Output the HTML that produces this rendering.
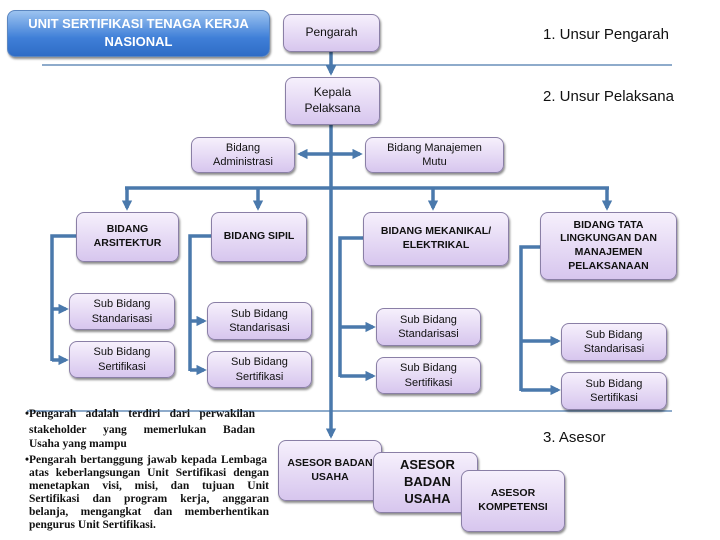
<!DOCTYPE html>
<html><head><meta charset="utf-8"><style>
body{margin:0;width:720px;height:540px;background:#fff;position:relative;overflow:hidden;font-family:"Liberation Sans",sans-serif}
.b{position:absolute;box-sizing:border-box;border:1px solid #8a7fa6;border-radius:8px;background:linear-gradient(#f6f0fc,#d7c6ee);box-shadow:1px 2px 2px rgba(0,0,0,.45);display:flex;align-items:center;justify-content:center;text-align:center;font-size:11px;color:#111;line-height:1.3}
.k{font-weight:bold;font-size:10.5px}
.u{position:absolute;font-size:15px;color:#111}
svg{position:absolute;left:0;top:0}
.l{position:absolute;left:27px;width:242px;font-family:"Liberation Serif",serif;font-weight:bold;font-size:11.5px;line-height:13px;text-align:justify;text-align-last:justify;color:#111;white-space:nowrap}
.l.n{text-align-last:left}
</style></head><body>
<svg width="720" height="540">
<defs><marker id="a" markerWidth="3" markerHeight="3" refX="2.2" refY="1.5" orient="auto"><path d="M0,0L3,1.5L0,3z" fill="#4a79ac"/></marker></defs>
<g stroke="#4a79ac" fill="none">
<line x1="42" y1="65" x2="672" y2="65" stroke-width="1.2"/>
<line x1="27" y1="411" x2="672" y2="411" stroke-width="1.2"/>
<g stroke-width="3.5" marker-end="url(#a)">
<line x1="331" y1="52" x2="331" y2="73"/>
<line x1="331" y1="125" x2="331" y2="436"/>
<line x1="331" y1="154" x2="300" y2="154"/>
<line x1="331" y1="154" x2="360" y2="154"/>
<line x1="127" y1="188" x2="127" y2="208"/>
<line x1="258" y1="188" x2="258" y2="208"/>
<line x1="433" y1="188" x2="433" y2="208"/>
<line x1="607" y1="188" x2="607" y2="208"/>
<line x1="52" y1="309" x2="66" y2="309"/>
<line x1="52" y1="360" x2="66" y2="360"/>
<line x1="190" y1="321" x2="204" y2="321"/>
<line x1="190" y1="370" x2="204" y2="370"/>
<line x1="340" y1="327" x2="373" y2="327"/>
<line x1="340" y1="376" x2="373" y2="376"/>
<line x1="521" y1="341" x2="558" y2="341"/>
<line x1="521" y1="390" x2="558" y2="390"/>
</g>
<g stroke-width="3.5">
<line x1="125" y1="188" x2="609" y2="188"/>
<polyline points="76,236 52,236 52,361"/>
<polyline points="211,236 190,236 190,371"/>
<polyline points="363,238 340,238 340,377"/>
<polyline points="540,247 521,247 521,391"/>
</g></g></svg>
<div class="b" style="left:7px;top:10px;width:263px;height:47px;background:linear-gradient(#9cc3f0,#3f7fd8 60%,#2f6cc6);border-color:#5b86c0;color:#fff;font-weight:bold;font-size:13px;align-items:flex-start;padding-top:4px;line-height:1.35">UNIT SERTIFIKASI TENAGA KERJA<br>NASIONAL</div>
<div class="b" style="left:283px;top:14px;width:97px;height:38px;font-size:12px">Pengarah</div>
<div class="b" style="left:285px;top:77px;width:95px;height:48px;font-size:12px">Kepala<br>Pelaksana</div>
<div class="b" style="left:191px;top:137px;width:104px;height:36px">Bidang<br>Administrasi</div>
<div class="b" style="left:365px;top:137px;width:139px;height:36px">Bidang Manajemen<br>Mutu</div>
<div class="b k" style="left:76px;top:212px;width:103px;height:50px">BIDANG<br>ARSITEKTUR</div>
<div class="b k" style="left:211px;top:212px;width:96px;height:50px">BIDANG SIPIL</div>
<div class="b k" style="left:363px;top:212px;width:146px;height:54px">BIDANG MEKANIKAL/<br>ELEKTRIKAL</div>
<div class="b k" style="left:540px;top:212px;width:137px;height:68px">BIDANG TATA<br>LINGKUNGAN DAN<br>MANAJEMEN<br>PELAKSANAAN</div>
<div class="b" style="left:69px;top:293px;width:106px;height:37px">Sub Bidang<br>Standarisasi</div>
<div class="b" style="left:69px;top:341px;width:106px;height:37px">Sub Bidang<br>Sertifikasi</div>
<div class="b" style="left:207px;top:302px;width:105px;height:38px">Sub Bidang<br>Standarisasi</div>
<div class="b" style="left:207px;top:351px;width:105px;height:37px">Sub Bidang<br>Sertifikasi</div>
<div class="b" style="left:376px;top:308px;width:105px;height:38px">Sub Bidang<br>Standarisasi</div>
<div class="b" style="left:376px;top:357px;width:105px;height:37px">Sub Bidang<br>Sertifikasi</div>
<div class="b" style="left:561px;top:323px;width:106px;height:38px">Sub Bidang<br>Standarisasi</div>
<div class="b" style="left:561px;top:372px;width:106px;height:38px">Sub Bidang<br>Sertifikasi</div>
<div class="b k" style="left:278px;top:440px;width:104px;height:61px;align-items:flex-start;padding-top:16px">ASESOR BADAN<br>USAHA</div>
<div class="b k" style="left:373px;top:452px;width:105px;height:61px;font-size:13px;justify-content:flex-start;padding-left:26px">ASESOR<br>BADAN<br>USAHA</div>
<div class="b k" style="left:461px;top:470px;width:104px;height:62px">ASESOR<br>KOMPETENSI</div>
<div class="u" style="left:543px;top:26px">1. Unsur Pengarah</div>
<div class="u" style="left:543px;top:88px">2. Unsur Pelaksana</div>
<div class="u" style="left:543px;top:429px">3. Asesor</div>
<div class="l" style="left:25px;width:230px;top:408px">•Pengarah adalah terdiri dari perwakilan</div>
<div class="l" style="left:29px;width:226px;top:424px">stakeholder yang memerlukan Badan</div>
<div class="l n" style="left:29px;top:438px">Usaha yang mampu</div>
<div class="l" style="left:25px;top:454px">•Pengarah bertanggung jawab kepada Lembaga</div>
<div class="l" style="left:29px;width:240px;top:467px">atas keberlangsungan Unit Sertifikasi dengan</div>
<div class="l" style="left:29px;width:240px;top:480px">menetapkan visi, misi, dan tujuan Unit</div>
<div class="l" style="left:29px;width:240px;top:493px">Sertifikasi dan program kerja, anggaran</div>
<div class="l" style="left:29px;width:240px;top:506px">belanja, mengangkat dan memberhentikan</div>
<div class="l n" style="left:29px;top:519px">pengurus Unit Sertifikasi.</div>
</body></html>
